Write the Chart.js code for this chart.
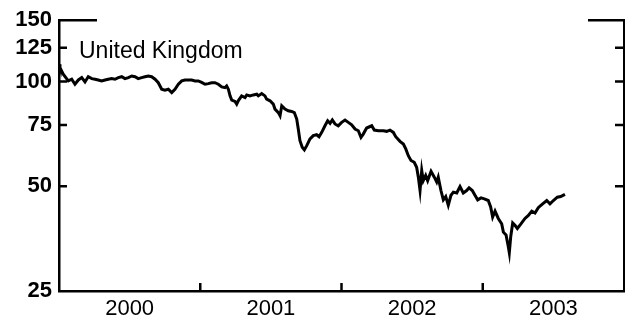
<!DOCTYPE html>
<html>
<head>
<meta charset="utf-8">
<title>United Kingdom</title>
<script src="https://cdn.jsdelivr.net/npm/chart.js@4/dist/chart.umd.min.js"></script>
<style>
  html, body { margin: 0; padding: 0; background: #fff; }
  #wrap { width: 625px; height: 324px; position: relative; }
</style>
</head>
<body>
<div id="wrap"><canvas id="uk-chart"></canvas></div>
<script>
// Weekly index level, dates as fractional years
const dates = [
  2000.000, 2000.007, 2000.030, 2000.066, 2000.090, 2000.113, 2000.137, 2000.161, 2000.184, 2000.207,
  2000.232, 2000.255, 2000.278, 2000.302, 2000.326, 2000.349, 2000.373, 2000.396, 2000.420, 2000.444,
  2000.467, 2000.491, 2000.515, 2000.538, 2000.561, 2000.585, 2000.609, 2000.632, 2000.656, 2000.680,
  2000.703, 2000.727, 2000.750, 2000.774, 2000.798, 2000.821, 2000.845, 2000.869, 2000.892, 2000.915,
  2000.939, 2000.963, 2000.986, 2001.010, 2001.034, 2001.057, 2001.081, 2001.104, 2001.128, 2001.152,
  2001.175, 2001.187, 2001.199, 2001.211, 2001.223, 2001.246, 2001.258, 2001.269, 2001.293, 2001.317,
  2001.329, 2001.352, 2001.376, 2001.400, 2001.411, 2001.435, 2001.458, 2001.470, 2001.494, 2001.517,
  2001.529, 2001.553, 2001.565, 2001.577, 2001.600, 2001.623, 2001.647, 2001.666, 2001.683, 2001.694,
  2001.706, 2001.722, 2001.737, 2001.754, 2001.777, 2001.800, 2001.824, 2001.841, 2001.860, 2001.883,
  2001.902, 2001.919, 2001.935, 2001.954, 2001.977, 2002.001, 2002.025, 2002.048, 2002.072, 2002.096,
  2002.119, 2002.138, 2002.154, 2002.178, 2002.214, 2002.232, 2002.261, 2002.296, 2002.320, 2002.343,
  2002.367, 2002.384, 2002.414, 2002.438, 2002.455, 2002.473, 2002.492, 2002.515, 2002.532, 2002.544,
  2002.556, 2002.568, 2002.579, 2002.596, 2002.610, 2002.634, 2002.657, 2002.674, 2002.685, 2002.704,
  2002.721, 2002.738, 2002.756, 2002.775, 2002.792, 2002.816, 2002.839, 2002.862, 2002.886, 2002.903,
  2002.926, 2002.945, 2002.964, 2002.988, 2003.011, 2003.039, 2003.056, 2003.070, 2003.087, 2003.110,
  2003.134, 2003.146, 2003.165, 2003.181, 2003.188, 2003.198, 2003.212, 2003.228, 2003.245, 2003.269,
  2003.299, 2003.323, 2003.347, 2003.370, 2003.393, 2003.424, 2003.453, 2003.476, 2003.500, 2003.528,
  2003.552, 2003.582
];
const ukIndex = [
  112.0, 109.6, 104.9, 100.4, 101.5, 98.2, 101.0, 102.6, 99.7, 103.2,
  101.9, 101.5, 101.0, 100.4, 101.0, 101.5, 101.9, 101.5, 102.6, 103.2,
  101.9, 102.6, 103.7, 103.2, 101.9, 102.6, 103.2, 103.7, 103.2, 101.5,
  99.2, 95.0, 94.4, 95.0, 92.9, 95.0, 98.2, 100.4, 101.0, 101.0,
  101.0, 100.4, 100.4, 99.4, 98.2, 98.6, 99.2, 99.2, 98.2, 96.5,
  96.0, 97.1, 95.0, 90.9, 88.4, 87.6, 86.1, 88.0, 90.9, 89.9,
  91.5, 90.9, 91.5, 91.9, 90.9, 92.3, 90.9, 89.0, 88.0, 86.1,
  83.3, 81.4, 79.7, 85.1, 83.3, 82.4, 82.0, 81.4, 78.0, 73.0,
  67.6, 64.7, 63.6, 65.4, 68.4, 69.9, 70.3, 69.4, 71.4, 74.6,
  77.1, 75.8, 77.5, 75.5, 74.6, 76.3, 77.5, 76.3, 75.1, 73.0,
  72.2, 69.1, 70.6, 73.5, 74.6, 72.5, 72.2, 72.2, 71.9, 72.5,
  71.4, 69.4, 67.3, 66.1, 64.0, 61.2, 59.3, 58.6, 56.7, 53.1,
  48.6, 55.5, 51.9, 53.7, 51.9, 55.2, 53.1, 51.4, 53.1, 48.6,
  45.7, 46.7, 44.1, 47.1, 48.1, 47.8, 49.9, 47.8, 48.6, 49.5,
  48.6, 47.1, 45.7, 46.3, 46.0, 45.5, 43.6, 40.8, 42.4, 40.4,
  39.0, 36.9, 36.2, 33.5, 32.2, 35.8, 39.2, 38.6, 37.8, 38.9,
  40.4, 41.2, 42.4, 41.9, 43.4, 44.5, 45.5, 44.5, 45.5, 46.5,
  46.7, 47.4
];
const yTicks = [25, 50, 75, 100, 125, 150];
const yearLabels = ['2000', '2001', '2002', '2003'];
const yearBreaks = [2001, 2002, 2003];
const panelTitle = 'United Kingdom';

const FONT = 'Liberation Sans, Arial, Helvetica, sans-serif';

// inward tick marks on both vertical axes and the bottom axis, plus the panel title
const frameTicks = {
  id: 'frameTicks',
  afterDraw(chart) {
    const ctx = chart.ctx;
    const { left, right, bottom } = chart.chartArea;
    const ys = chart.scales.y;
    const xs = chart.scales.x;
    ctx.save();
    ctx.strokeStyle = '#000';
    ctx.lineWidth = 2.5;
    ctx.beginPath();
    yTicks.slice(1).forEach(v => {
      const py = ys.getPixelForValue(v);
      const top = v === yTicks[yTicks.length - 1];
      ctx.moveTo(left, py);
      ctx.lineTo(left + (top ? 38 : 8), py);
      ctx.moveTo(right, py);
      ctx.lineTo(right - (top ? 36 : 9), py);
    });
    yearBreaks.forEach(yr => {
      const px = xs.getPixelForValue(yr);
      ctx.moveTo(px, bottom);
      ctx.lineTo(px, bottom - 8);
    });
    ctx.stroke();

    ctx.fillStyle = '#000';
    ctx.font = '23px ' + FONT;
    ctx.textAlign = 'left';
    ctx.textBaseline = 'alphabetic';
    ctx.fillText(panelTitle, left + 20, 58);
    ctx.restore();
  }
};

new Chart(document.getElementById('uk-chart'), {
  type: 'line',
  data: {
    datasets: [{
      data: dates.map((d, i) => ({ x: d, y: ukIndex[i] })),
      borderColor: '#000',
      borderWidth: 3,
      pointRadius: 0,
      tension: 0,
      fill: false
    }]
  },
  options: {
    responsive: true,
    maintainAspectRatio: false,
    animation: false,
    devicePixelRatio: 1,
    layout: { padding: { top: 19, right: 1, left: 0, bottom: 0 } },
    plugins: {
      legend: { display: false },
      tooltip: { enabled: false }
    },
    scales: {
      x: {
        type: 'linear',
        min: 2000,
        max: 2004,
        afterBuildTicks: s => { s.ticks = yearLabels.map((_, i) => ({ value: 2000.5 + i })); },
        afterFit: s => { s.height = 33; },
        ticks: {
          callback: (v, i) => yearLabels[i],
          color: '#000',
          font: { family: FONT, size: 22 },
          padding: 5,
          maxRotation: 0,
          autoSkip: false
        },
        grid: { display: false, drawTicks: false },
        border: { display: true, color: '#000', width: 2.5 }
      },
      y: {
        type: 'logarithmic',
        position: 'left',
        min: 25,
        max: 150,
        afterBuildTicks: s => { s.ticks = yTicks.map(v => ({ value: v })); },
        afterFit: s => { s.width = 59; },
        ticks: {
          callback: v => String(v),
          color: '#000',
          font: { family: FONT, size: 22, weight: 'bold' },
          padding: 7,
          autoSkip: false
        },
        grid: { display: false, drawTicks: false },
        border: { display: true, color: '#000', width: 2.5 }
      },
      y2: {
        type: 'logarithmic',
        position: 'right',
        min: 25,
        max: 150,
        afterFit: s => { s.width = 0; },
        ticks: { display: false },
        grid: { display: false, drawTicks: false },
        border: { display: true, color: '#000', width: 2.5 }
      }
    }
  },
  plugins: [frameTicks]
});
</script>
</body>
</html>
